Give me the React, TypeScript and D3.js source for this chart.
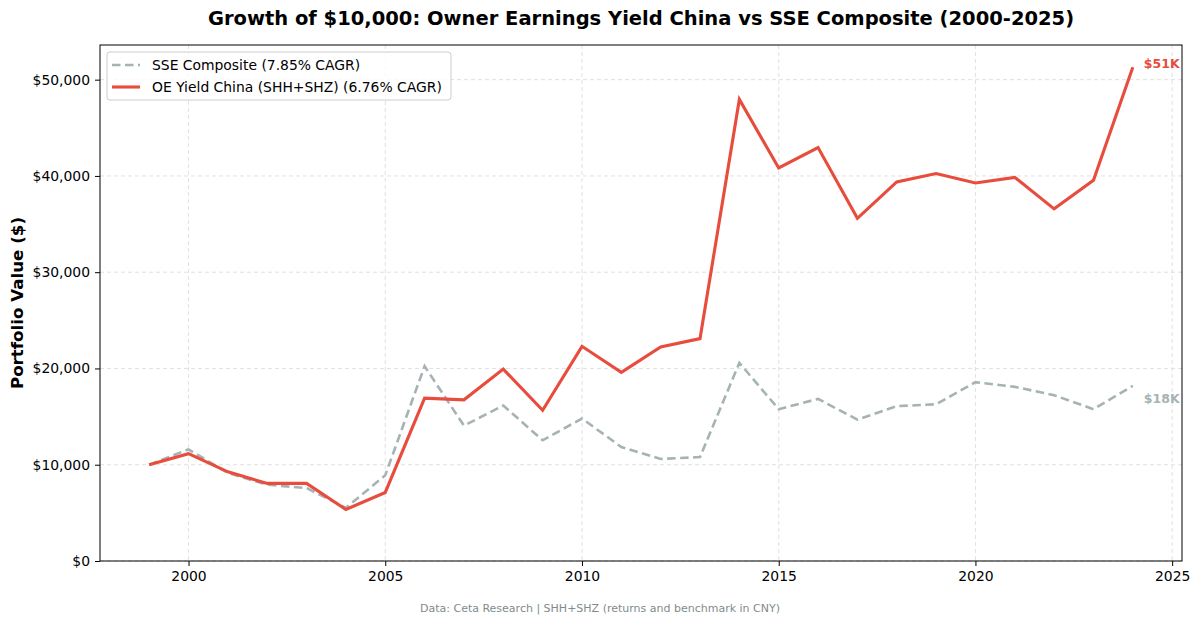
import React, { useEffect, useRef } from 'react';
import * as d3 from 'd3';

const years = [
  1999, 2000, 2001, 2002, 2003, 2004, 2005, 2006, 2007, 2008, 2009, 2010, 2011,
  2012, 2013, 2014, 2015, 2016, 2017, 2018, 2019, 2020, 2021, 2022, 2023, 2024,
];
const sseValues = [
  10000, 11600, 9150, 7920, 7580, 5520, 8900, 20240, 14060, 16150, 12540, 14800, 11840,
  10600, 10800, 20580, 15770, 16840, 14690, 16080, 16280, 18580, 18090, 17220, 15770, 18200,
];
const oeValues = [
  10000, 11150, 9260, 8060, 8060, 5350, 7120, 16910, 16740, 19930, 15660, 22300, 19590,
  22240, 23100, 47950, 40830, 42950, 35600, 39380, 40250, 39270, 39850, 36580, 39550, 51300,
];
const xTicks = [2000, 2005, 2010, 2015, 2020, 2025];
const yTicks = [0, 10000, 20000, 30000, 40000, 50000];
const seriesNames = ['SSE Composite (7.85% CAGR)', 'OE Yield China (SHH+SHZ) (6.76% CAGR)'];

const W = 1200;
const H = 625;
const margin = { top: 45, right: 18, bottom: 64, left: 100 };
const RED = '#e74c3c';
const GRAY = '#a6b3b4';
const FONT = '"DejaVu Sans", sans-serif';

export default function App() {
  const svgRef = useRef<SVGSVGElement>(null);

  useEffect(() => {
    if (!svgRef.current) return;
    const svg = d3.select(svgRef.current);
    svg.selectAll('*').remove();

    const iw = W - margin.left - margin.right;
    const ih = H - margin.top - margin.bottom;

    const x = d3.scaleLinear().domain([1997.75, 2025.25]).range([0, iw]);
    const y = d3.scaleLinear().domain([0, 53600]).range([ih, 0]);

    svg.append('rect').attr('width', W).attr('height', H).attr('fill', '#fff');

    const g = svg.append('g').attr('transform', `translate(${margin.left},${margin.top})`);

    // grid
    g.append('g')
      .selectAll('line')
      .data(xTicks)
      .join('line')
      .attr('x1', d => x(d))
      .attr('x2', d => x(d))
      .attr('y1', 0)
      .attr('y2', ih)
      .attr('stroke', '#d9d9d9')
      .attr('stroke-dasharray', '4,3')
      .attr('stroke-width', 0.8);
    g.append('g')
      .selectAll('line')
      .data(yTicks)
      .join('line')
      .attr('x1', 0)
      .attr('x2', iw)
      .attr('y1', d => y(d))
      .attr('y2', d => y(d))
      .attr('stroke', '#d9d9d9')
      .attr('stroke-dasharray', '4,3')
      .attr('stroke-width', 0.8);

    const line = d3
      .line<number>()
      .x((_, i) => x(years[i]))
      .y(d => y(d));

    g.append('path')
      .datum(sseValues)
      .attr('d', line)
      .attr('fill', 'none')
      .attr('stroke', GRAY)
      .attr('stroke-width', 2.6)
      .attr('stroke-dasharray', '8.5,4.5');

    g.append('path')
      .datum(oeValues)
      .attr('d', line)
      .attr('fill', 'none')
      .attr('stroke', RED)
      .attr('stroke-width', 3.1);

    // end labels
    const last = years.length - 1;
    g.append('text')
      .attr('x', x(years[last]) + 11)
      .attr('y', y(oeValues[last]) - 4)
      .attr('dy', '0.35em')
      .attr('fill', RED)
      .attr('font-family', FONT)
      .attr('font-weight', 'bold')
      .attr('font-size', 12.5)
      .text(`$${Math.round(oeValues[last] / 1000)}K`);
    g.append('text')
      .attr('x', x(years[last]) + 11)
      .attr('y', y(sseValues[last]) + 13)
      .attr('dy', '0.35em')
      .attr('fill', GRAY)
      .attr('font-family', FONT)
      .attr('font-weight', 'bold')
      .attr('font-size', 12.5)
      .text(`$${Math.round(sseValues[last] / 1000)}K`);

    // axes
    const xAxis = g
      .append('g')
      .attr('transform', `translate(0,${ih})`)
      .call(d3.axisBottom(x).tickValues(xTicks).tickFormat(d3.format('d')).tickSize(5).tickPadding(5));
    const yAxis = g
      .append('g')
      .call(
        d3
          .axisLeft(y)
          .tickValues(yTicks)
          .tickFormat(d => `$${d3.format(',')(d as number)}`)
          .tickSize(5)
          .tickPadding(5)
      );
    [xAxis, yAxis].forEach(a => {
      a.select('.domain').remove();
      a.selectAll('text').attr('font-family', FONT).attr('font-size', 13.9).attr('fill', '#000');
      a.selectAll('line').attr('stroke', '#000').attr('stroke-width', 1);
    });

    g.append('rect')
      .attr('width', iw)
      .attr('height', ih)
      .attr('fill', 'none')
      .attr('stroke', '#000')
      .attr('stroke-width', 1);

    // legend
    const lg = g.append('g').attr('transform', 'translate(7,7)');
    lg.append('rect')
      .attr('width', 344)
      .attr('height', 48)
      .attr('rx', 3)
      .attr('fill', '#fff')
      .attr('fill-opacity', 0.8)
      .attr('stroke', '#cccccc');
    seriesNames.forEach((name, i) => {
      const yy = 13 + i * 22;
      lg.append('line')
        .attr('x1', 5)
        .attr('x2', 33)
        .attr('y1', yy)
        .attr('y2', yy)
        .attr('stroke', i === 0 ? GRAY : RED)
        .attr('stroke-width', i === 0 ? 2.6 : 3.1)
        .attr('stroke-dasharray', i === 0 ? '8.5,4.5' : null);
      lg.append('text')
        .attr('x', 45)
        .attr('y', yy)
        .attr('dy', '0.35em')
        .attr('font-family', FONT)
        .attr('font-size', 13.9)
        .text(name);
    });

    // titles
    svg.append('text')
      .attr('x', margin.left + iw / 2)
      .attr('y', 25)
      .attr('text-anchor', 'middle')
      .attr('font-family', FONT)
      .attr('font-weight', 'bold')
      .attr('font-size', 19.5)
      .text('Growth of $10,000: Owner Earnings Yield China vs SSE Composite (2000-2025)');

    svg.append('text')
      .attr('transform', `translate(23,${margin.top + ih / 2}) rotate(-90)`)
      .attr('text-anchor', 'middle')
      .attr('font-family', FONT)
      .attr('font-weight', 'bold')
      .attr('font-size', 16.7)
      .text('Portfolio Value ($)');

    svg.append('text')
      .attr('x', W / 2)
      .attr('y', 612)
      .attr('text-anchor', 'middle')
      .attr('font-family', FONT)
      .attr('font-size', 11)
      .attr('fill', '#7f8c8d')
      .text('Data: Ceta Research | SHH+SHZ (returns and benchmark in CNY)');
  }, []);

  return (
    <div style={{ position: 'fixed', left: 0, top: 0 }}>
      <svg ref={svgRef} width={W} height={H} style={{ display: 'block' }} />
    </div>
  );
}
